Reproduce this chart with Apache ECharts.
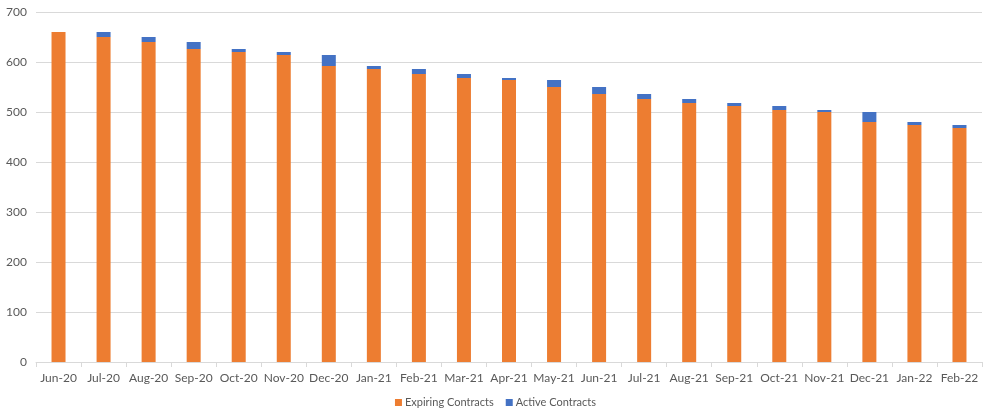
<!DOCTYPE html>
<html>
<head>
<meta charset="utf-8">
<script src="https://cdn.jsdelivr.net/npm/echarts@6/dist/echarts.min.js"></script>
<style>html,body{margin:0;padding:0;background:#fff}#c{width:991px;height:420px}</style>
</head>
<body>
<div id="c"></div>
<script>
const categories = ["Jun-20","Jul-20","Aug-20","Sep-20","Oct-20","Nov-20","Dec-20","Jan-21","Feb-21","Mar-21","Apr-21","May-21","Jun-21","Jul-21","Aug-21","Sep-21","Oct-21","Nov-21","Dec-21","Jan-22","Feb-22"];
const expiring = [660,650,640,626,620,614,592,586,576,568,564,550,536,526,518,512,504,500,480,474,468];
const active = [0,10,10,14,6,6,22,6,10,8,4,14,14,10,8,6,8,4,20,6,6];
const yTicks = {min:0, max:700, interval:100};

const font = "Lato, 'Open Sans', sans-serif";
const chart = echarts.init(document.getElementById('c'), null, {renderer:'canvas'});
chart.setOption({
  animation:false,
  textStyle:{fontFamily:font},
  grid:{left:36, right:9, top:12, bottom:58, containLabel:false},
  legend:{
    data:['Expiring Contracts','Active Contracts'],
    bottom:7, left:'center',
    itemWidth:7, itemHeight:7, itemGap:12,
    icon:'rect',
    textStyle:{color:'#595959', fontSize:11, fontFamily:font, padding:[0,0,0,-2]}
  },
  xAxis:{
    type:'category', data:categories,
    axisLine:{lineStyle:{color:'#D9D9D9'}},
    axisTick:{show:true, alignWithLabel:false, length:5, lineStyle:{color:'#D9D9D9'}},
    axisLabel:{color:'#595959', fontSize:12, margin:10, interval:0, fontFamily:font}
  },
  yAxis:{
    type:'value', min:yTicks.min, max:yTicks.max, interval:yTicks.interval,
    axisLine:{show:false}, axisTick:{show:false},
    splitLine:{lineStyle:{color:'#D9D9D9'}},
    axisLabel:{color:'#595959', fontSize:12, margin:9, fontFamily:font}
  },
  series:[
    {name:'Expiring Contracts', type:'bar', stack:'a', data:expiring, barWidth:14, itemStyle:{color:'#ED7D31'}},
    {name:'Active Contracts', type:'bar', stack:'a', data:active, barWidth:14, itemStyle:{color:'#4472C4'}}
  ]
});
</script>
</body>
</html>
